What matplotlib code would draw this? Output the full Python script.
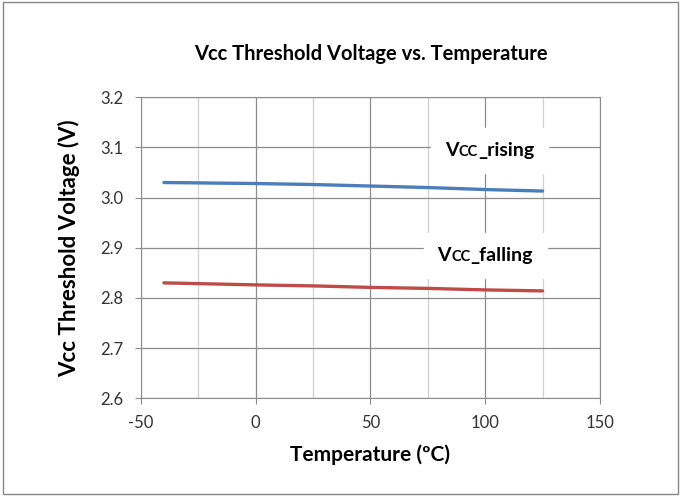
import numpy as np
import matplotlib
matplotlib.use("Agg")
import matplotlib.pyplot as plt
from matplotlib.offsetbox import TextArea, HPacker, AnchoredOffsetbox
from matplotlib.patches import Rectangle

temp = [-40, 0, 25, 50, 75, 100, 125]
vcc_rising = [3.030, 3.028, 3.026, 3.023, 3.020, 3.016, 3.013]
vcc_falling = [2.830, 2.826, 2.824, 2.821, 2.819, 2.816, 2.814]

x_ticks = [-50, 0, 50, 100, 150]
y_ticks = [2.6, 2.7, 2.8, 2.9, 3.0, 3.1, 3.2]

plt.rcParams['font.family'] = ['Lato', 'DejaVu Sans']
plt.rcParams['axes.unicode_minus'] = False

fig = plt.figure(figsize=(6.81, 4.96), dpi=100)
fig.patches.append(Rectangle((0.004, 0.004), 0.992, 0.992, transform=fig.transFigure,
                             fill=False, edgecolor="#868686", linewidth=1))
ax = fig.add_axes([0.207, 0.197, 0.674, 0.607])

ax.plot(temp, vcc_rising, color="#4A7EBB", linewidth=2.4, solid_capstyle="round", zorder=3)
ax.plot(temp, vcc_falling, color="#BE4B48", linewidth=2.4, solid_capstyle="round", zorder=3)

ax.set_xlim(-50, 150)
ax.set_ylim(2.6, 3.2)
ax.set_xticks(x_ticks)
ax.set_xticks(np.arange(-25, 150, 50), minor=True)
ax.set_yticks(y_ticks)
ax.set_yticklabels([f"{v:.1f}" for v in y_ticks])
ax.grid(True, which="major", color="#8c8c8c", linewidth=0.9)
ax.grid(True, which="minor", axis="x", color="#d0d0d0", linewidth=0.9)
ax.tick_params(which="minor", length=0)
ax.tick_params(which="major", direction="out", length=4, color="#8c8c8c",
               labelsize=12, labelcolor="#333333")
ax.tick_params(axis="x", pad=8)
ax.tick_params(axis="y", pad=9)
for s in ax.spines.values():
    s.set_color("#8c8c8c")

ax.set_title("Vcc Threshold Voltage vs. Temperature", fontsize=14.5, fontweight="bold", pad=27)
ax.set_xlabel("Temperature (ºC)", fontsize=15, fontweight="bold", labelpad=10)
ax.set_ylabel("Vcc Threshold Voltage (V)", fontsize=16, fontweight="bold", labelpad=14)


def vcc_label(suffix, loc_xy):
    parts = [TextArea("V", textprops=dict(fontsize=14, fontweight="bold")),
             TextArea("CC", textprops=dict(fontsize=10.5, fontweight="bold")),
             TextArea(suffix, textprops=dict(fontsize=14, fontweight="bold"))]
    box = HPacker(children=parts, align="baseline", pad=0, sep=0)
    ab = AnchoredOffsetbox(loc="center", child=box, pad=1.0, frameon=True,
                           bbox_to_anchor=loc_xy, bbox_transform=ax.transData, borderpad=0)
    ab.patch.set_facecolor("white")
    ab.patch.set_edgecolor("white")
    ab.zorder = 4
    ax.add_artist(ab)


vcc_label("_rising", (102, 3.094))
vcc_label("_falling", (100, 2.885))

fig.savefig("out.png", dpi=100)
